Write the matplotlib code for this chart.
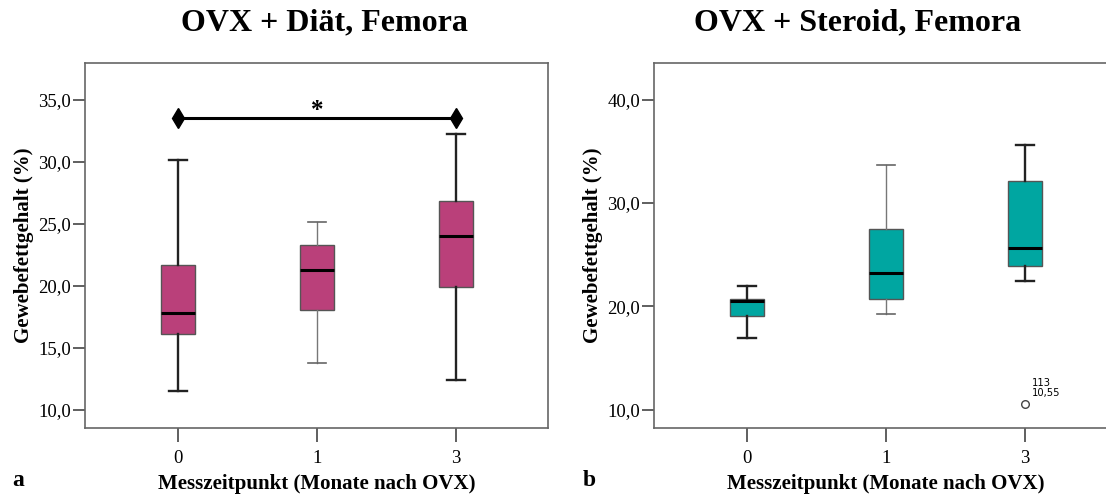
import numpy as np
import matplotlib.pyplot as plt
from matplotlib.ticker import FuncFormatter

plt.rcParams['font.family'] = ['Liberation Serif', 'DejaVu Serif']

groups = ["0", "1", "3"]

# OVX + Diaet
diet_lo = [11.5, 13.8, 12.4]
diet_q1 = [16.1, 18.0, 19.9]
diet_med = [17.8, 21.3, 24.0]
diet_q3 = [21.7, 23.3, 26.8]
diet_hi = [30.1, 25.1, 32.2]

# OVX + Steroid
ster_lo = [16.9, 19.3, 22.5]
ster_q1 = [19.1, 20.7, 23.9]
ster_med = [20.5, 23.2, 25.6]
ster_q3 = [20.7, 27.5, 32.1]
ster_hi = [22.0, 33.7, 35.6]
ster_fliers = [[], [], [10.55]]

sig_y = 33.5

col_diet = '#BA407A'
col_ster = '#00A6A1'


def comma(v, pos):
    return ("%.1f" % v).replace('.', ',')


def draw_boxes(ax, lo, q1, med, q3, hi, fliers, color):
    stats = []
    for i in range(len(groups)):
        stats.append(dict(whislo=lo[i], q1=q1[i], med=med[i], q3=q3[i],
                          whishi=hi[i], fliers=fliers[i], label=groups[i]))
    res = ax.bxp(stats, positions=range(len(groups)), widths=0.245,
                 patch_artist=True, showfliers=True,
                 boxprops=dict(facecolor=color, edgecolor='#555555', linewidth=1.0),
                 medianprops=dict(color='black', linewidth=2.2),
                 whiskerprops=dict(color='#222222', linewidth=1.7),
                 capprops=dict(color='#222222', linewidth=1.7),
                 flierprops=dict(marker='o', markerfacecolor='white',
                                 markeredgecolor='#444444', markersize=5.5, markeredgewidth=1.0))
    # middle group drawn with thinner grey whiskers
    for j in (2, 3):
        res['whiskers'][j].set_color('#777777')
        res['whiskers'][j].set_linewidth(1.0)
        res['caps'][j].set_color('#666666')
        res['caps'][j].set_linewidth(1.2)
    for cap in res['caps']:
        c = np.mean(cap.get_xdata())
        cap.set_xdata([c - 0.062, c + 0.062])
    return res


def style(ax, ylim, yticks):
    ax.set_xlim(-0.669, 2.662)
    ax.set_ylim(*ylim)
    ax.set_yticks(yticks)
    ax.yaxis.set_major_formatter(FuncFormatter(comma))
    ax.set_xticks(range(len(groups)))
    ax.set_xticklabels(groups)
    for s in ax.spines.values():
        s.set_color('#666666')
        s.set_linewidth(1.2)
    ax.tick_params(axis='y', direction='out', length=9, width=1.2, color='#444444',
                   labelsize=13.5, pad=1)
    ax.tick_params(axis='x', direction='out', length=10, width=1.2, color='#444444',
                   labelsize=13.5, pad=6)
    ax.set_xlabel("Messzeitpunkt (Monate nach OVX)", fontsize=15, fontweight='bold', labelpad=5)
    ax.set_ylabel("Gewebefettgehalt (%)", fontsize=15, fontweight='bold', labelpad=3)


fig = plt.figure(figsize=(11.06, 4.95), dpi=100)
ax1 = fig.add_axes([0.0769, 0.1354, 0.4186, 0.7374])
ax2 = fig.add_axes([0.5913, 0.1354, 0.4186, 0.7374])

draw_boxes(ax1, diet_lo, diet_q1, diet_med, diet_q3, diet_hi, [[], [], []], col_diet)
style(ax1, (8.52, 37.96), [10, 15, 20, 25, 30, 35])
ax1.plot([0, 2], [sig_y, sig_y], color='black', linewidth=2.2,
         marker='d', markersize=10, markevery=[0, 1])
ax1.text(1, 34.1, "*", ha='center', va='center', fontsize=18, fontweight='bold')

draw_boxes(ax2, ster_lo, ster_q1, ster_med, ster_q3, ster_hi, ster_fliers, col_ster)
style(ax2, (8.23, 43.55), [10, 20, 30, 40])
ax2.text(2.05, 11.1, "113\n10,55", fontsize=7.2, family='DejaVu Sans',
         ha='left', va='bottom', linespacing=1.0)

fig.text(324 / 1106, 1 - 23 / 495, "OVX + Diät, Femora", ha='center', va='center',
         fontsize=23, fontweight='bold')
fig.text(858 / 1106, 1 - 23 / 495, "OVX + Steroid, Femora", ha='center', va='center',
         fontsize=23, fontweight='bold')
fig.text(12 / 1106, 1 - 481 / 495, "a", ha='left', va='center', fontsize=17, fontweight='bold')
fig.text(583 / 1106, 1 - 481 / 495, "b", ha='left', va='center', fontsize=17, fontweight='bold')

fig.savefig("out.png", dpi=100)
